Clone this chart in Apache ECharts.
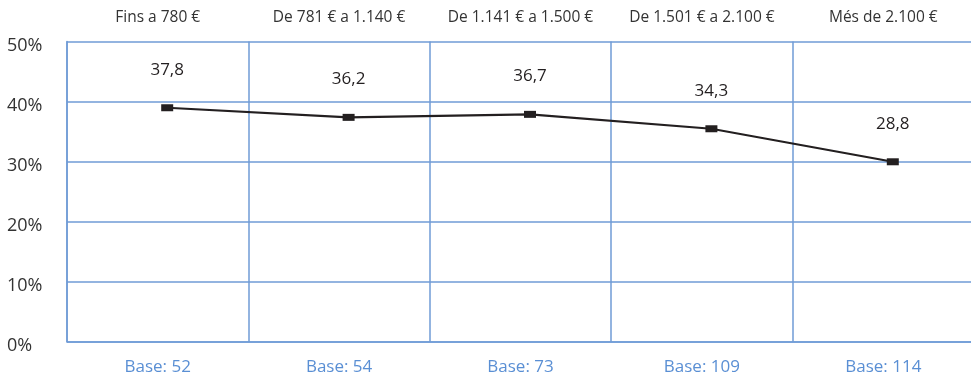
<!DOCTYPE html>
<html>
<head>
<meta charset="utf-8">
<script src="https://cdn.jsdelivr.net/npm/echarts@6/dist/echarts.min.js"></script>
<style>
html,body{margin:0;padding:0;background:#fff;}
#c{width:971px;height:381px;}
</style>
</head>
<body>
<div id="c"></div>
<script>
const categories = ['Fins a 780 €', 'De 781 € a 1.140 €', 'De 1.141 € a 1.500 €', 'De 1.501 € a 2.100 €', 'Més de 2.100 €'];
const bases = ['Base: 52', 'Base: 54', 'Base: 73', 'Base: 109', 'Base: 114'];
const values = [37.8, 36.2, 36.7, 34.3, 28.8];
const yTicks = { min: 0, max: 50, interval: 10 };

const FONT = '"Open Sans", "Noto Sans", sans-serif';
const GRID_BLUE = '#6f9bd6';
const TEXT_BLUE = '#5a8fd4';
const DARK = '#231f20';

const chart = echarts.init(document.getElementById('c'), null, { renderer: 'canvas' });
chart.setOption({
  animation: false,
  backgroundColor: '#fff',
  textStyle: { fontFamily: FONT },
  grid: [
    { left: 67, top: 41.5, bottom: 39.3, width: 907, containLabel: false, outerBoundsMode: 'none' },
    { left: 76.5, top: 34.5, bottom: 46.3, width: 907, containLabel: false, outerBoundsMode: 'none' }
  ],
  xAxis: [
    {
      type: 'category', gridIndex: 0, data: bases, position: 'bottom', boundaryGap: true,
      axisLine: { show: true, lineStyle: { color: GRID_BLUE, width: 1.5 } },
      axisTick: { show: false },
      splitLine: { show: true, interval: 0, lineStyle: { color: GRID_BLUE, width: 1.5 } },
      axisLabel: { color: TEXT_BLUE, fontSize: 17, margin: 17, interval: 0, fontFamily: FONT }
    },
    {
      type: 'category', gridIndex: 0, data: categories, position: 'top', boundaryGap: true,
      axisLine: { show: false },
      axisTick: { show: false },
      splitLine: { show: false },
      axisLabel: { color: '#333', fontSize: 15.5, margin: 16, interval: 0, hideOverlap: false, fontFamily: FONT }
    },
    {
      type: 'category', gridIndex: 1, data: categories, boundaryGap: true, show: false
    }
  ],
  yAxis: [
    {
      type: 'value', gridIndex: 0, min: yTicks.min, max: yTicks.max, interval: yTicks.interval,
      axisLine: { show: true, lineStyle: { color: GRID_BLUE, width: 1.5 } },
      axisTick: { show: false },
      splitLine: { show: true, lineStyle: { color: GRID_BLUE, width: 1.5 } },
      axisLabel: {
        color: '#333', fontSize: 18, margin: 60, align: 'left', fontFamily: FONT,
        verticalAlign: 'top', lineHeight: 8,
        formatter: v => v + '%'
      }
    },
    {
      type: 'value', gridIndex: 1, min: yTicks.min, max: yTicks.max, show: false
    }
  ],
  series: [
    {
      type: 'line', xAxisIndex: 2, yAxisIndex: 1, data: values,
      symbol: 'rect', symbolSize: [12, 7],
      lineStyle: { color: DARK, width: 2.2 },
      itemStyle: { color: DARK },
      label: {
        show: true, position: 'top', distance: 26, color: DARK, fontSize: 17, fontFamily: FONT,
        formatter: p => p.value.toFixed(1).replace('.', ',')
      }
    }
  ]
});
</script>
</body>
</html>
